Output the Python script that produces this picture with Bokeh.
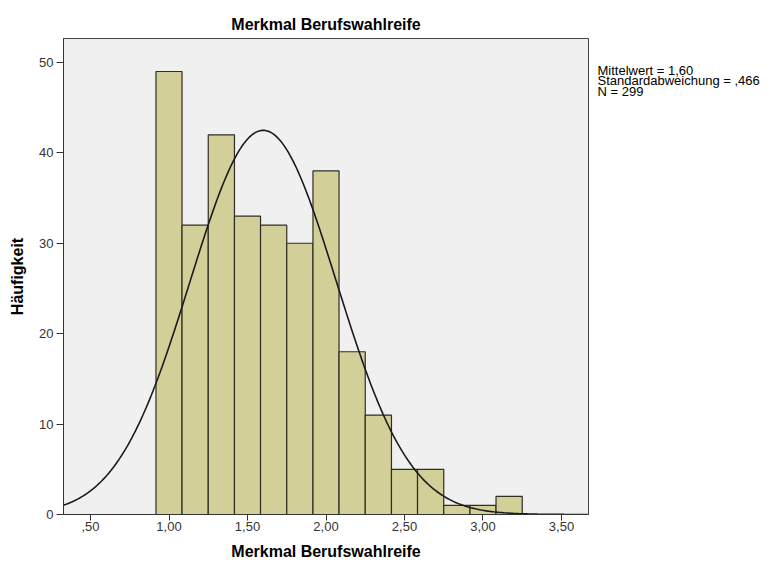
import numpy as np
from bokeh.plotting import figure
from bokeh.layouts import row
from bokeh.models import FixedTicker, Range1d
from bokeh.core.properties import value
from bokeh.embed import file_html
from bokeh.resources import INLINE

# ---- data ----
bin_left = [0.917, 1.083, 1.250, 1.417, 1.583, 1.750, 1.917,
            2.083, 2.250, 2.417, 2.583, 2.750, 2.917, 3.083]
bin_right = [1.083, 1.250, 1.417, 1.583, 1.750, 1.917, 2.083,
             2.250, 2.417, 2.583, 2.750, 2.917, 3.083, 3.250]
counts = [49, 32, 42, 33, 32, 30, 38, 18, 11, 5, 5, 1, 1, 2]

mean_value = 1.60
std_value = 0.466
n_value = 299

x_ticks = [0.5, 1.0, 1.5, 2.0, 2.5, 3.0, 3.5]
x_tick_labels = [",50", "1,00", "1,50", "2,00", "2,50", "3,00", "3,50"]
y_ticks = [0, 10, 20, 30, 40, 50]

stats_lines = ["Mittelwert = 1,60", "Standardabweichung = ,466", "N = 299"]

FONT = "Liberation Sans"
H = 570
TOP, BOTTOM = 38, 514

p = figure(width=589, height=H, output_backend="svg", toolbar_location=None,
           x_range=Range1d(0.328, 3.672), y_range=Range1d(0, 52.65),
           min_border_left=63, min_border_right=1, min_border_top=TOP,
           min_border_bottom=H - BOTTOM)

p.title.text = "Merkmal Berufswahlreife"
p.title.align = "center"
p.title.text_font = FONT
p.title.text_font_size = "16px"
p.title.text_font_style = "bold"
p.title.text_color = "#000000"
p.title.offset = 0
p.title.standoff = 11

p.background_fill_color = "#F0F0F0"
p.border_fill_color = "#FFFFFF"
p.outline_line_color = "#444444"
p.outline_line_width = 1
p.grid.visible = False

bin_w = bin_right[0] - bin_left[0]
p.quad(left=bin_left, right=bin_right, bottom=0, top=counts,
       fill_color="#D3CF98", line_color="#2E2E24", line_width=1.2)

# fitted normal curve from the stated statistics
xs = np.linspace(0.328, 3.672, 300)
ys = n_value * bin_w / (std_value * np.sqrt(2 * np.pi)) * np.exp(-0.5 * ((xs - mean_value) / std_value) ** 2)
p.line(xs, ys, line_color="#1A1A1A", line_width=1.6)

for ax in (p.xaxis[0], p.yaxis[0]):
    ax.axis_line_color = "#333333"
    ax.major_tick_line_color = "#333333"
    ax.major_tick_out = 7
    ax.major_tick_in = 0
    ax.minor_tick_line_color = None
    ax.major_label_text_font = FONT
    ax.major_label_text_font_size = "13px"
    ax.major_label_text_color = "#333333"
    ax.axis_label_text_font = FONT
    ax.axis_label_text_font_size = "16px"
    ax.axis_label_text_font_style = "bold"
    ax.axis_label_text_color = "#000000"

p.xaxis.ticker = FixedTicker(ticks=x_ticks)
p.xaxis.major_label_overrides = {t: l for t, l in zip(x_ticks, x_tick_labels)}
p.xaxis.axis_label = "Merkmal Berufswahlreife"
p.xaxis.major_tick_out = 6
p.xaxis.major_label_standoff = 1
p.xaxis.axis_label_standoff = 9

p.yaxis.ticker = FixedTicker(ticks=y_ticks)
p.yaxis.axis_label = "Häufigkeit"
p.yaxis.major_label_standoff = 3
p.yaxis.axis_label_standoff = 10

# side panel with the statistics text; its frame is aligned with the main frame,
# so its y range runs in page pixels from TOP to BOTTOM
side_w = 775 - 589
s = figure(frame_width=side_w, frame_height=BOTTOM - TOP, output_backend="svg",
           toolbar_location=None, title=None,
           x_axis_location=None, y_axis_location=None,
           x_range=Range1d(0, side_w), y_range=Range1d(BOTTOM, TOP),
           min_border=0, min_border_top=TOP, min_border_bottom=H - BOTTOM,
           outline_line_color=None)
s.grid.visible = False
s.background_fill_color = "#FFFFFF"
s.border_fill_color = "#FFFFFF"
line_y = [70 + i * 10.3 for i in range(len(stats_lines))]
s.text(x=[8] * len(stats_lines), y=line_y, text=stats_lines,
       text_font=value(FONT), text_font_size="13px",
       text_baseline="middle", text_align="left", text_color="#000000")

layout = row(p, s, spacing=0)
open("out.html", "w").write(file_html(layout, INLINE))
